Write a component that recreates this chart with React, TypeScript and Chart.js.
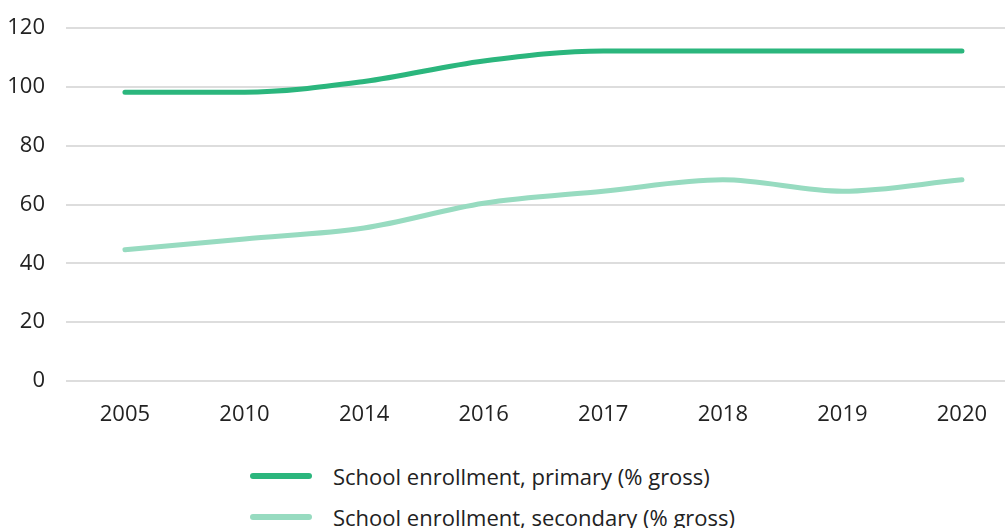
import React, { useEffect, useRef } from "react";
import { Chart, registerables } from "chart.js";

Chart.register(...registerables);

const years = ["2005", "2010", "2014", "2016", "2017", "2018", "2019", "2020"];
const primary = [98.2, 98.2, 101.8, 108.8, 112.2, 112.2, 112.2, 112.2];
const secondary = [44.6, 48.3, 52.0, 60.4, 64.5, 68.4, 64.5, 68.4];
const seriesLabels = ["School enrollment, primary (% gross)", "School enrollment, secondary (% gross)"];
const seriesColors = ["#2bb67d", "#97dbc0"];
const FONT = "'Open Sans', Lato, sans-serif";
const FS = 22;

export default function App() {
  const ref = useRef<HTMLCanvasElement | null>(null);
  useEffect(() => {
    if (!ref.current) return;
    const chart = new Chart(ref.current, {
      type: "line",
      data: {
        datasets: [primary, secondary].map((d, i) => ({
          label: seriesLabels[i],
          data: d.map((v, j) => ({ x: j, y: v })),
          borderColor: seriesColors[i],
          backgroundColor: seriesColors[i],
          borderWidth: 5,
          borderCapStyle: "round" as const,
          borderJoinStyle: "round" as const,
          pointRadius: 0,
          cubicInterpolationMode: "monotone" as const,
        })),
      },
      options: {
        animation: false,
        responsive: false,
        maintainAspectRatio: false,
        layout: { padding: { top: 28, right: 0, left: 0, bottom: 0 } },
        plugins: { legend: { display: false }, tooltip: { enabled: false } },
        scales: {
          x: {
            type: "linear",
            min: -0.493,
            max: 7.36,
            grid: { display: false, drawTicks: false },
            border: { display: false },
            afterBuildTicks: (s: any) => { s.ticks = years.map((_, j) => ({ value: j })); },
            ticks: {
              color: "#222",
              font: { family: FONT, size: FS },
              padding: 21,
              autoSkip: false,
              maxRotation: 0,
              callback: (v: any) => years[v] ?? "",
            },
            afterFit: (s: any) => { s.height = 59; s.paddingLeft = 0; s.paddingRight = 0; },
          },
          y: {
            min: 0,
            max: 120,
            grid: { color: "#dddddd", lineWidth: 2, drawTicks: false },
            border: { display: false },
            ticks: { stepSize: 20, color: "#222", font: { family: FONT, size: FS }, padding: 21 },
            afterFit: (s: any) => { s.width = 66; s.paddingTop = 0; s.paddingBottom = 0; },
          },
        },
      },
    });
    return () => chart.destroy();
  }, []);

  return (
    <div style={{ position: "absolute", left: 0, top: 0, width: 1005, height: 528, background: "#fff", fontFamily: FONT }}>
      <canvas ref={ref} width={1005} height={440} style={{ display: "block" }} />
      {seriesLabels.map((l, i) => (
        <div key={l} style={{ position: "absolute", left: 250, top: 460 + i * 41, height: 32, display: "flex", alignItems: "center" }}>
          <div style={{ width: 62, height: 6, borderRadius: 3, background: seriesColors[i] }} />
          <div style={{ marginLeft: 21, fontSize: FS, color: "#222", whiteSpace: "nowrap" }}>{l}</div>
        </div>
      ))}
    </div>
  );
}
